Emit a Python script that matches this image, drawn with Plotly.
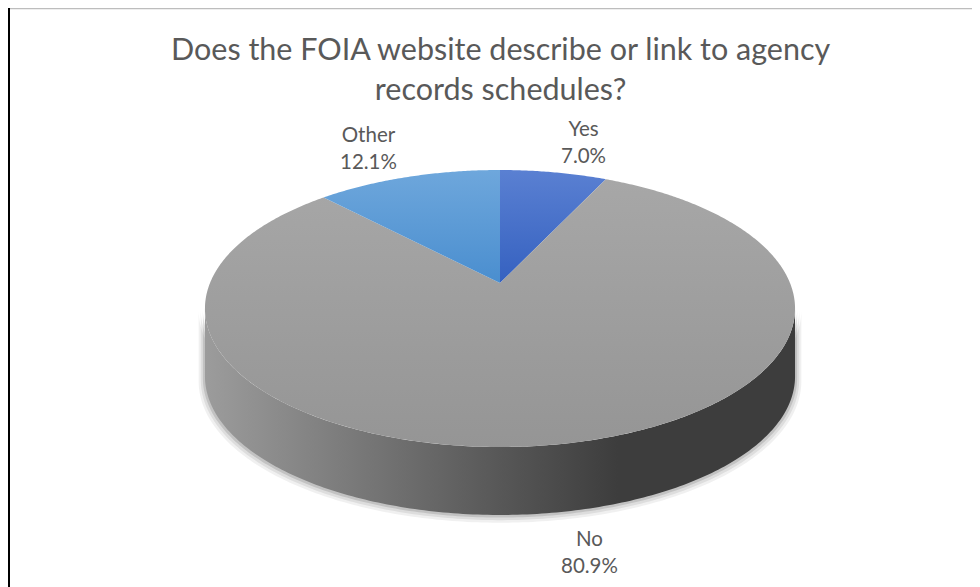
import numpy as np
import plotly.graph_objects as go

# ---- data ----
categories = ["Yes", "No", "Other"]
values = [7.0, 80.9, 12.1]
slice_colors_top = ["#5a80d2", "#a7a7a7", "#6ea7dc"]
slice_colors_bot = ["#3561c0", "#959595", "#4a8ecf"]

title_text = "Does the FOIA website describe or link to agency<br>records schedules?"

# ---- geometry of the tilted (perspective) pie, in page pixels ----
CX, CY = 500.0, 283.0      # apex of pie on screen
A, B = 290.0, 133.8         # horizontal / depth scale
K = 0.184                   # perspective factor
DEPTH = 68.0                # thickness of the pie

PAGE_OFF = 8  # browser body margin


def proj(theta_deg, r=1.0, dy=0.0):
    t = np.radians(theta_deg)
    X = r * np.sin(t)
    Z = r * np.cos(t)
    w = 1 + K * Z
    return CX + A * X / w, CY - B * Z / w + dy


fig = go.Figure()

# side wall (front, visible part)
t1 = np.degrees(np.arccos(-K))
t2 = 360 - t1
th = np.linspace(t1, t2, 200)
xt, yt = proj(th)
xb, yb = proj(th[::-1], dy=DEPTH)

# soft shadow
for grow, op in [(6, 0.06), (4, 0.08), (2, 0.12)]:
    xs, ys = proj(th, r=1.0 + grow / 290.0)
    xsb, ysb = proj(th[::-1], r=1.0 + grow / 290.0, dy=DEPTH + grow * 0.6)
    fig.add_trace(go.Scatter(
        x=np.concatenate([xs, xsb]), y=np.concatenate([ys, ysb]),
        fill="toself", mode="none", fillcolor=f"rgba(0,0,0,{op})",
        hoverinfo="skip", showlegend=False))

fig.add_trace(go.Scatter(
    x=np.concatenate([xt, xb]), y=np.concatenate([yt, yb]),
    fill="toself", mode="none",
    fillgradient=dict(type="horizontal",
                      colorscale=[[0, "#9c9c9c"], [0.45, "#5e5e5e"],
                                  [0.7, "#3d3d3d"], [1, "#3d3d3d"]]),
    hoverinfo="skip", showlegend=False))

# top faces of slices (clockwise from 12 o'clock)
total = sum(values)
start = 0.0
for cat, v, ct, cb in zip(categories, values, slice_colors_top, slice_colors_bot):
    span = 360.0 * v / total
    ang = np.linspace(start, start + span, max(int(span * 2), 4))
    ax_, ay_ = proj(ang)
    xs = np.concatenate([[CX], ax_, [CX]])
    ys = np.concatenate([[CY], ay_, [CY]])
    fig.add_trace(go.Scatter(
        x=xs, y=ys, fill="toself", mode="none",
        fillgradient=dict(type="vertical", colorscale=[[0, cb], [1, ct]]),
        hoverinfo="skip", showlegend=False, name=cat))
    start += span

# data labels
label_pos = {"Yes": (583, 141), "No": (589, 551), "Other": (368, 147)}
for cat, v in zip(categories, values):
    lx, ly = label_pos[cat]
    fig.add_annotation(x=lx, y=ly, xref="x", yref="y",
                       text=f"{cat}<br>{v:.1f}%", showarrow=False,
                       font=dict(family="Lato", size=20.5, color="#595959"),
                       align="center")

# title
fig.add_annotation(x=500, y=67.5, xref="x", yref="y", text=title_text,
                   showarrow=False, align="center", yanchor="middle",
                   font=dict(family="Lato", size=30.5, color="#595959"))

# page border lines
fig.add_shape(type="line", xref="paper", yref="paper", x0=0, x1=1,
              y0=1 - 0.5 / (587 - PAGE_OFF), y1=1 - 0.5 / (587 - PAGE_OFF),
              line=dict(color="#bdbdbd", width=1.5))
fig.add_shape(type="line", xref="paper", yref="paper",
              x0=1.0 / (980 - PAGE_OFF), x1=1.0 / (980 - PAGE_OFF), y0=0, y1=1,
              line=dict(color="#000000", width=2))

fig.update_layout(
    width=980 - PAGE_OFF, height=587 - PAGE_OFF,
    margin=dict(l=0, r=0, t=0, b=0),
    paper_bgcolor="white", plot_bgcolor="white",
    xaxis=dict(range=[PAGE_OFF, 980], visible=False, fixedrange=True),
    yaxis=dict(range=[587, PAGE_OFF], visible=False, fixedrange=True),
    showlegend=False,
)

fig.write_html("out.html")
